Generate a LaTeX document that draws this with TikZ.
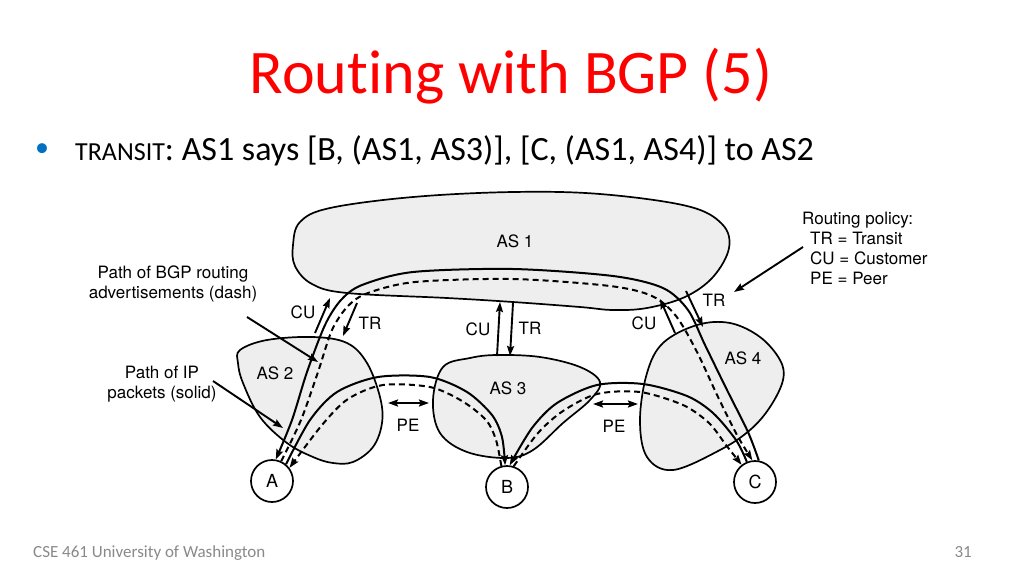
\documentclass[tikz,border=0pt]{standalone}
\usepackage{fontspec}
\setmainfont{Carlito}[Ligatures=NoCommon]
\newfontfamily\figfont{TeX Gyre Heros}
\usetikzlibrary{arrows.meta}
\definecolor{titlered}{RGB}{255,0,0}
\definecolor{bulletblue}{RGB}{0,112,192}
\definecolor{footgray}{RGB}{137,137,137}
\definecolor{blobgray}{RGB}{238,238,238}

\begin{document}
\begin{tikzpicture}[x=1pt, y=-1pt]
\useasboundingbox (0,0) rectangle (1024,576);

\node[anchor=base, text=titlered, font=\fontsize{62}{70}\selectfont] (Title) at (511,93) {Routing with BGP (5)};
\node[anchor=base, text=bulletblue, font=\fontsize{28}{30}\selectfont] (Bullet) at (42,156) {\textbullet};
\node[anchor=base west, inner sep=0pt, font=\fontsize{34}{40}\selectfont] (Line1) at (75,160) {{\fontsize{26}{30}\selectfont TRANSIT}: AS1 says [B, (AS1, AS3)], [C, (AS1, AS4)] to AS2};
\node[anchor=base west, inner sep=0pt, text=footgray, font=\fontsize{17}{20}\selectfont] (Foot) at (33,557) {CSE 461 University of Washington};
\node[anchor=base east, inner sep=0pt, text=footgray, font=\fontsize{17}{20}\selectfont] (Page) at (972,557) {31};

\tikzset{BlobStyle/.style = {draw=black, fill=blobgray, line width=1.7pt} }

\filldraw[BlobStyle] plot[smooth cycle, tension=0.6] coordinates {(293,245) (300,222) (330,208) (413,197) (513,192) (600,194) (687,206) (722,224) (729,248) (713,277) (685,297) (647,308) (613,310) (580,307) (513,302) (447,298) (347,293) (312,284) (295,266)};
\filldraw[BlobStyle] plot[smooth cycle, tension=0.6] coordinates {(240,350) (267,340) (313,337) (347,343) (367,363) (380,397) (382,423) (373,447) (353,462) (333,463) (313,457) (287,443) (260,417) (243,383) (238,363)};
\filldraw[BlobStyle] plot[smooth cycle, tension=0.6] coordinates {(443,367) (470,358) (497,355) (540,357) (580,367) (600,382) (590,400) (563,423) (533,450) (507,458) (467,452) (440,433) (433,400)};
\filldraw[BlobStyle] plot[smooth cycle, tension=0.6] coordinates {(663,343) (697,325) (730,323) (760,337) (780,360) (783,380) (770,407) (750,430) (720,450) (673,470) (647,457) (640,420) (647,373)};

\tikzset{TagStyle/.style = {font=\figfont\fontsize{17}{20}\selectfont, inner sep=1pt} }

\node[TagStyle] (L_AS1) at (515,241) {AS 1};
\node[TagStyle] (L_AS2) at (275,373) {AS 2};
\node[TagStyle] (L_AS3) at (508,388) {AS 3};
\node[TagStyle] (L_AS4) at (743,358) {AS 4};

\tikzset{HostStyle/.style = {
 shape = circle,
 draw = black,
 fill = white,
 line width = 1.7pt,
 inner sep = 0pt,
 minimum size = 42pt,
 font = \figfont\fontsize{18}{20}\selectfont} }

\node[HostStyle] (A) at (272,481) {A};
\node[HostStyle] (B) at (507,487) {B};
\node[HostStyle] (C) at (755,482) {C};

\coordinate (CU2_1) at (315,333);
\coordinate (CU2_2) at (330,298);
\coordinate (TR2_1) at (357,303);
\coordinate (TR2_2) at (343,336);
\coordinate (CU3_1) at (497,356);
\coordinate (CU3_2) at (500,302);
\coordinate (TR3_1) at (513,303);
\coordinate (TR3_2) at (510,356);
\coordinate (CU4_1) at (675,333);
\coordinate (CU4_2) at (660,299);
\coordinate (TR4_1) at (686,291);
\coordinate (TR4_2) at (703,327);
\coordinate (PE1_1) at (388,403);
\coordinate (PE1_2) at (429,403);
\coordinate (PE2_1) at (593,404);
\coordinate (PE2_2) at (638,404);
\coordinate (N_BGP) at (247,317);
\coordinate (N_BGP_t) at (318,362);
\coordinate (N_IP) at (213,381);
\coordinate (N_IP_t) at (283,428);
\coordinate (N_POL) at (803,247);
\coordinate (N_POL_t) at (734,292);

\tikzset{IpStyle/.style = {line width=2pt, -{Stealth[length=10pt, width=7pt, inset=1.5pt]}} }
\tikzset{BgpStyle/.style = {IpStyle, dash pattern=on 6pt off 4pt} }

\draw[IpStyle] plot[smooth] coordinates {(C.80) (748,432) (727,390) (705,345) (688,310) (663,288) (613,276) (513,269) (413,272) (362,285) (341,300) (325,325) (307,372) (292,420) (A.80)};
\draw[BgpStyle] plot[smooth] coordinates {(A.65) (301,420) (318,372) (332,330) (348,306) (368,293) (415,282) (513,279) (610,286) (652,296) (676,316) (697,352) (718,397) (737,435) (C.97)};
\draw[IpStyle] plot[smooth] coordinates {(A.50) (310,420) (337,392) (378,377) (430,377) (467,392) (492,415) (502,437) (B.95)};
\draw[BgpStyle] plot[smooth] coordinates {(B.105) (496,440) (486,420) (462,401) (430,387) (383,385) (348,399) (322,425) (A.37)};
\draw[IpStyle] plot[smooth] coordinates {(C.112) (736,440) (713,413) (687,396) (643,384) (597,385) (557,403) (532,428) (B.83)};
\draw[BgpStyle] plot[smooth] coordinates {(B.72) (538,433) (563,411) (597,394) (640,392) (683,405) (709,423) (726,445) (C.128)};

\tikzset{EdgeStyle/.style = {line width=1.9pt, -{Stealth[length=10pt, width=7pt, inset=1.5pt]}} }

\draw[EdgeStyle] (CU2_1) -- (CU2_2);
\draw[EdgeStyle] (TR2_1) -- (TR2_2);
\draw[EdgeStyle] (CU3_1) -- (CU3_2);
\draw[EdgeStyle] (TR3_1) -- (TR3_2);
\draw[EdgeStyle] (CU4_1) -- (CU4_2);
\draw[EdgeStyle] (TR4_1) -- (TR4_2);
\draw[EdgeStyle, {Stealth[length=10pt, width=7pt, inset=1.5pt]}-{Stealth[length=10pt, width=7pt, inset=1.5pt]}] (PE1_1) -- (PE1_2);
\draw[EdgeStyle, {Stealth[length=10pt, width=7pt, inset=1.5pt]}-{Stealth[length=10pt, width=7pt, inset=1.5pt]}] (PE2_1) -- (PE2_2);
\draw[EdgeStyle] (N_BGP) -- (N_BGP_t);
\draw[EdgeStyle] (N_IP) -- (N_IP_t);
\draw[EdgeStyle] (N_POL) -- (N_POL_t);

\node[TagStyle] (T_CU2) at (303,312) {CU};
\node[TagStyle] (T_TR2) at (370,323) {TR};
\node[TagStyle] (T_CU3) at (478,329) {CU};
\node[TagStyle] (T_TR3) at (530,328) {TR};
\node[TagStyle] (T_CU4) at (644,323) {CU};
\node[TagStyle] (T_TR4) at (714,300) {TR};
\node[TagStyle] (T_PE1) at (408,425) {PE};
\node[TagStyle] (T_PE2) at (614,426) {PE};

\node[TagStyle, align=center] (BgpNote) at (173,284) {Path of BGP routing\\advertisements (dash)};
\node[TagStyle, align=center] (IpNote) at (162,384) {Path of IP\\packets (solid)};
\node[TagStyle, align=left, anchor=north west] (PolicyNote) at (801,211) {Routing policy:\\\hspace*{8pt}TR = Transit\\\hspace*{8pt}CU = Customer\\\hspace*{8pt}PE = Peer};

\end{tikzpicture}
\end{document}
